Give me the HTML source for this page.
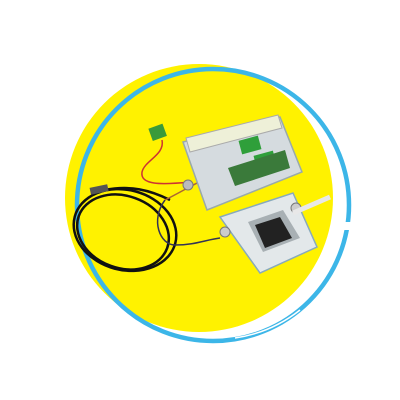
<!DOCTYPE html>
<html><head><meta charset="utf-8"><style>
html,body{margin:0;padding:0;background:#fff;width:400px;height:400px;overflow:hidden}
</style></head><body>
<svg width="400" height="400" viewBox="0 0 400 400">
  <circle cx="199" cy="198" r="134" fill="#fff200"/>
  <circle cx="213" cy="205" r="136" fill="none" stroke="#3cb6e8" stroke-width="4.5"/>
  <rect x="342" y="222" width="12" height="8" fill="#fff"/>
  <path d="M 235 338 A 136 136 0 0 0 300 310" fill="none" stroke="#fff" stroke-width="1.5"/>
  <!-- cables -->
  <g fill="none" stroke="#111" stroke-width="2.5">
    <ellipse cx="125" cy="230" rx="52" ry="40" transform="rotate(15 125 230)"/>
    <ellipse cx="123" cy="232" rx="47" ry="36" transform="rotate(20 123 232)"/>
    <path d="M 105 190 C 130 185, 150 190, 170 200"/>
  </g>
  <path d="M 165 200 C 150 220, 160 245, 175 245 C 195 245, 205 240, 220 238" fill="none" stroke="#335" stroke-width="1.5"/>
  <path d="M 165 200 C 185 190, 200 180, 225 170" fill="none" stroke="#a63" stroke-width="1.5"/>
  <rect x="90" y="186" width="18" height="7" fill="#555" transform="rotate(-12 99 189)"/>
  <path d="M 162 140 C 165 155, 145 160, 142 172 C 140 185, 160 185, 190 182" fill="none" stroke="#c33" stroke-width="1.5"/>
  <rect x="150" y="126" width="15" height="13" fill="#3a9a3a" transform="rotate(-20 157 132)"/>
  <!-- enclosure -->
  <g>
    <polygon points="183,142 280,117 302,172 207,210" fill="#d5dbdf" stroke="#9aa" stroke-width="1.5"/>
    <polygon points="186,138 278,115 282,128 190,152" fill="#eef0d8" stroke="#aaa"/>
    <rect x="240" y="138" width="20" height="14" fill="#2f9f3a" transform="rotate(-15 250 145)"/>
    <rect x="255" y="153" width="20" height="14" fill="#2f9f3a" transform="rotate(-15 265 160)"/>
    <polygon points="228,168 285,150 290,168 235,186" fill="#3a7a3a"/>
    <circle cx="188" cy="185" r="5" fill="#bbb" stroke="#777"/>
  </g>
  <!-- bottom sensor box -->
  <g>
    <polygon points="220,217 293,193 317,247 260,273" fill="#e3e8ea" stroke="#8ab" stroke-width="1.5"/>
    <polygon points="248,222 283,210 300,238 263,252" fill="#a8b0b4"/>
    <polygon points="255,225 280,217 292,238 265,248" fill="#222"/>
    <circle cx="225" cy="232" r="5" fill="#ccc" stroke="#777"/>
    <circle cx="296" cy="208" r="5" fill="#ccc" stroke="#777"/>
    <line x1="293" y1="213" x2="330" y2="197" stroke="#e8e8e8" stroke-width="5"/>
  </g>
</svg>
</body></html>
